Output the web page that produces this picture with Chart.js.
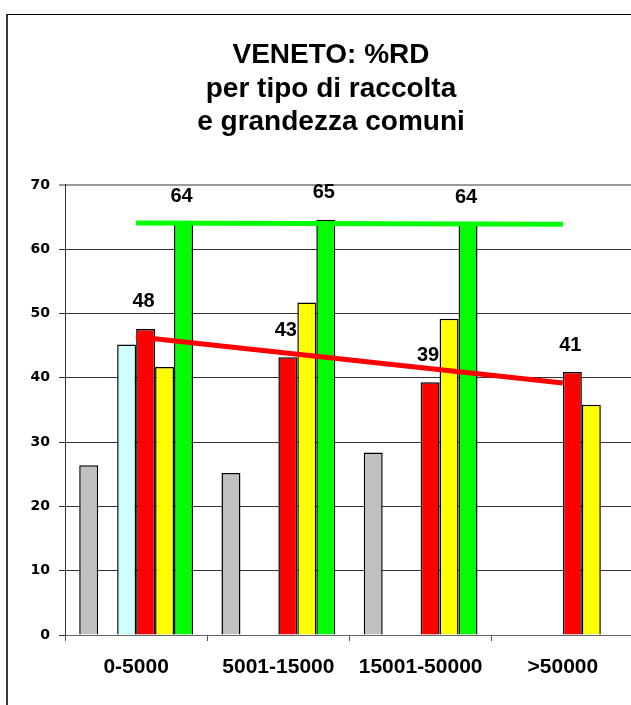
<!DOCTYPE html>
<html>
<head>
<meta charset="utf-8">
<script src="https://cdn.jsdelivr.net/npm/chart.js@4.4.0/dist/chart.umd.min.js"></script>
<style>
	html, body { margin: 0; padding: 0; background: #fff; overflow: hidden; }
	#clip { position: relative; width: 631px; height: 705px; overflow: hidden; }
	.frame { position: absolute; left: 6px; top: 14px; width: 625px; height: 691px; border-left: 2px solid #3a3a3a; border-top: 1px solid #000; box-sizing: border-box; }
	#rdChart { position: absolute; left: 0; top: 0; }
</style>
</head>
<body>
<div id="clip">
	<div class="frame"></div>
	<canvas id="rdChart" width="634" height="705"></canvas>
</div>
<script>
// categorie (grandezza comuni)
const categories = ['0-5000', '5001-15000', '15001-50000', '>50000'];

// %RD per tipo di raccolta
const grigio = [26.4, 25.2, 28.4, null];
const vuoto = [null, null, null, null];
const azzurro = [45.2, null, null, null];
const rosso = [47.6, 43.2, 39.3, 40.9];
const giallo = [41.7, 51.7, 49.2, 35.8];
const verde = [64.0, 64.6, 63.8, null];

// linee di tendenza (solo estremi)
const trendVerde = [64.1, null, null, 63.9];
const trendRosso = [46.4, null, null, 39.2];

const yTicks = [0, 10, 20, 30, 40, 50, 60, 70];

const titleLines = ['VENETO: %RD', 'per tipo di raccolta', 'e grandezza comuni'];

// etichette valori sopra barre rosse e verdi
const valueLabels = {
	id: 'valueLabels',
	beforeDatasetsDraw(chart) {
		const ctx = chart.ctx;
		ctx.save();
		ctx.font = 'bold 20px "Liberation Sans", Arial, sans-serif';
		ctx.fillStyle = '#000';
		ctx.textAlign = 'center';
		ctx.textBaseline = 'middle';
		[3, 5].forEach(i => {
			const meta = chart.getDatasetMeta(i);
			meta.data.forEach((bar, j) => {
				const v = chart.data.datasets[i].data[j];
				if (v === null) return;
				ctx.fillText(Math.round(v), bar.x - 2, bar.y - 27);
			});
		});
		ctx.restore();
	}
};

function barSet(label, data, color) {
	return {
		type: 'bar',
		label: label,
		data: data,
		backgroundColor: color,
		borderColor: '#000',
		borderWidth: 1.5,
		borderSkipped: 'bottom',
		categoryPercentage: 0.8,
		barPercentage: 1.0,
	};
}

function lineSet(label, data, color) {
	return {
		type: 'line',
		label: label,
		data: data,
		borderColor: color,
		backgroundColor: color,
		borderWidth: 5,
		pointRadius: 0,
		spanGaps: true,
		fill: false,
		order: -1,
	};
}

const ctx = document.getElementById('rdChart').getContext('2d');
new Chart(ctx, {
	data: {
		labels: categories,
		datasets: [
			barSet('Serie 1', grigio, '#C0C0C0'),
			barSet('Serie 2', vuoto, '#9999FF'),
			barSet('Serie 3', azzurro, '#CCFFFF'),
			barSet('Serie 4', rosso, '#FF0000'),
			barSet('Serie 5', giallo, '#FFFF00'),
			barSet('Serie 6', verde, '#00FF00'),
			lineSet('Tendenza verde', trendVerde, '#00FF00'),
			lineSet('Tendenza rossa', trendRosso, '#FF0000'),
		],
	},
	options: {
		responsive: false,
		animation: false,
		layout: { padding: { left: 28, right: 0, top: 0, bottom: 0 } },
		plugins: {
			legend: { display: false },
			tooltip: { enabled: false },
			title: {
				display: true,
				text: titleLines,
				color: '#000',
				font: { family: '"Liberation Sans", Arial, sans-serif', size: 28, weight: 'bold', lineHeight: 1.196 },
				padding: { top: 39, bottom: 45.5 },
			},
		},
		scales: {
			x: {
				offset: true,
				grid: { display: true, drawOnChartArea: false, drawTicks: true, tickLength: 6, color: '#555', offset: true },
				border: { display: true, color: '#666', width: 1 },
				ticks: {
					color: '#000',
					padding: 14,
					maxRotation: 0,
					font: { family: '"Liberation Sans", Arial, sans-serif', size: 21, weight: 'bold' },
				},
				afterFit(scale) { scale.height = 70; },
			},
			y: {
				min: 0,
				max: 70,
				afterBuildTicks(scale) { scale.ticks = yTicks.map(v => ({ value: v })); },
				grid: {
					color: (c) => (c.tick && c.tick.value === 70 ? '#999' : '#333'),
					lineWidth: (c) => (c.tick && c.tick.value === 70 ? 2 : 1),
					tickLength: 6,
				},
				border: { display: true, color: '#333', width: 1 },
				ticks: {
					color: '#000',
					padding: 9,
					font: { family: '"DejaVu Sans", Verdana, sans-serif', size: 14, weight: 'bold' },
				},
				afterFit(scale) { scale.width = 37; },
			},
		},
	},
	plugins: [valueLabels],
});
</script>
</body>
</html>
